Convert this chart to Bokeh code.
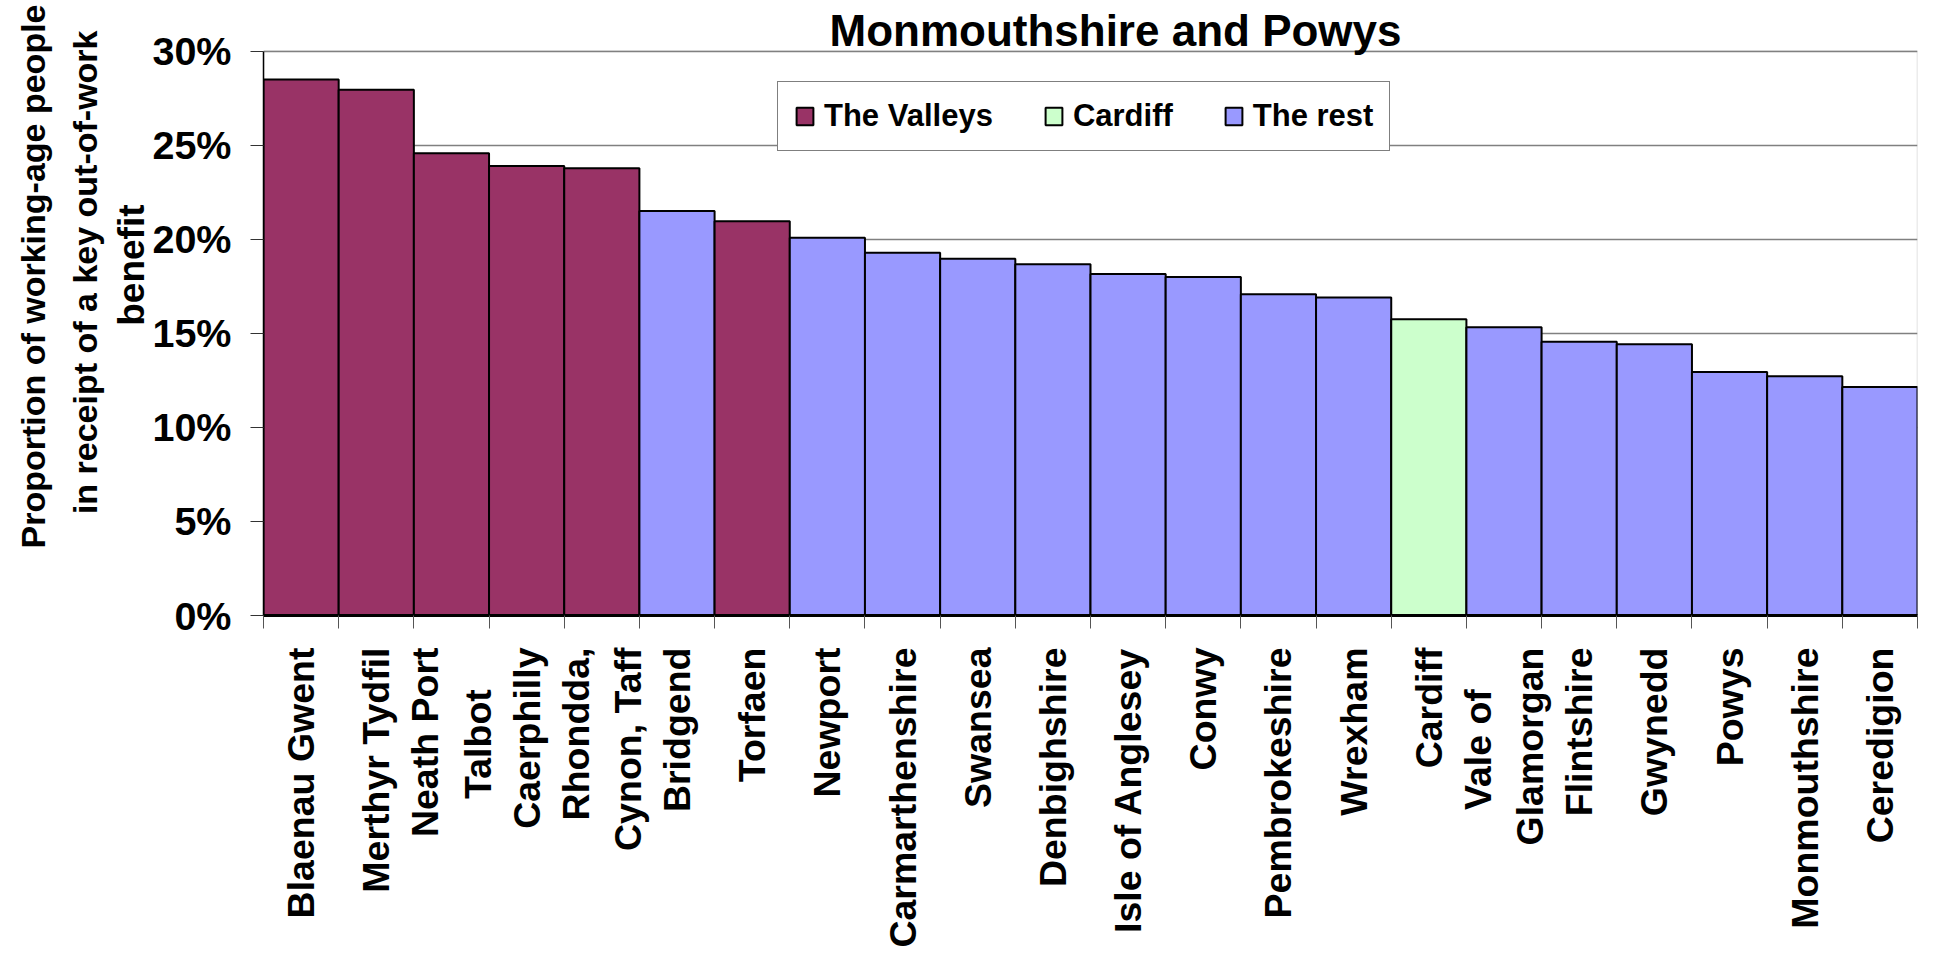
import math
from bokeh.plotting import figure
from bokeh.models import (Range1d, FixedTicker, NumeralTickFormatter, Label, Title,
                          Legend, LegendItem, ColumnDataSource, BoxAnnotation)
from bokeh.embed import file_html
from bokeh.resources import INLINE

# ---- data ----
areas = ["Blaenau Gwent", "Merthyr Tydfil", "Neath Port Talbot", "Caerphilly",
         "Rhondda, Cynon, Taff", "Bridgend", "Torfaen", "Newport", "Carmarthenshire",
         "Swansea", "Denbighshire", "Isle of Anglesey", "Conwy", "Pembrokeshire",
         "Wrexham", "Cardiff", "Vale of Glamorgan", "Flintshire", "Gwynedd", "Powys",
         "Monmouthshire", "Ceredigion"]
NB4 = "\u00a0" * 4   # keeps a short second line centred under the first
tick_labels = ["Blaenau Gwent", "Merthyr Tydfil", "Neath Port\nTalbot" + NB4, "Caerphilly",
               "Rhondda,\nCynon, Taff", "Bridgend", "Torfaen", "Newport", "Carmarthenshire",
               "Swansea", "Denbighshire", "Isle of Anglesey", "Conwy", "Pembrokeshire",
               "Wrexham", "Cardiff", "Vale of" + NB4 + "\nGlamorgan", "Flintshire", "Gwynedd",
               "Powys", "Monmouthshire", "Ceredigion"]
share = [0.2850, 0.2795, 0.2458, 0.2390, 0.2378, 0.2151, 0.2096, 0.2008, 0.1929,
         0.1896, 0.1868, 0.1815, 0.1800, 0.1708, 0.1690, 0.1575, 0.1533, 0.1455,
         0.1442, 0.1294, 0.1272, 0.1215]
group = ["The Valleys", "The Valleys", "The Valleys", "The Valleys", "The Valleys",
         "The rest", "The Valleys", "The rest", "The rest", "The rest", "The rest",
         "The rest", "The rest", "The rest", "The rest", "Cardiff", "The rest",
         "The rest", "The rest", "The rest", "The rest", "The rest"]
group_names = ["The Valleys", "Cardiff", "The rest"]
group_colors = {"The Valleys": "#993366", "Cardiff": "#CCFFCC", "The rest": "#9999FF"}
y_ticks = [0.0, 0.05, 0.10, 0.15, 0.20, 0.25, 0.30]
title_text = "Monmouthshire and Powys"
y_title_lines = ["Proportion of working-age people",
                 "in receipt of a key out-of-work",
                 "benefit"]

FONT = "Liberation Sans"
n = len(areas)
xpos = [i + 0.5 for i in range(n)]
y_max = y_ticks[-1]

W, H = 1919, 950
BORDER_L, BORDER_R, BORDER_B = 263, 2, 335
FRAME_H = H - BORDER_B            # frame reaches the canvas top
AXIS_TOP_PX = 50.7                # pixel row of the 30% line
y_end = y_max * FRAME_H / (FRAME_H - AXIS_TOP_PX)

src = ColumnDataSource(dict(x=xpos, top=share, area=areas, group=group,
                            color=[group_colors[g] for g in group]))

p = figure(width=W, height=H, output_backend="svg", toolbar_location=None,
           x_range=Range1d(0, n), y_range=Range1d(0, y_end),
           min_border_left=BORDER_L, min_border_right=BORDER_R, min_border_top=0,
           min_border_bottom=BORDER_B, background_fill_color="white",
           border_fill_color="white")
p.outline_line_color = None

# grey plot-area border (0..30%)
p.add_layout(BoxAnnotation(left=0, right=n, bottom=0, top=y_max, fill_alpha=0,
                           line_color="#808080", line_width=1.5, level="underlay"))

bars = p.vbar(x="x", top="top", width=1.0, bottom=0, source=src,
              fill_color="color", line_color="black", line_width=2)

# x axis: labels at centres, ticks at category boundaries
xa = p.xaxis[0]
xa.ticker = FixedTicker(ticks=xpos, minor_ticks=list(range(n + 1)))
xa.major_label_overrides = {x: lab for x, lab in zip(xpos, tick_labels)}
xa.major_label_orientation = math.pi / 2
xa.major_tick_line_color = None
xa.major_tick_in = 0
xa.major_tick_out = 13
xa.minor_tick_in = 0
xa.minor_tick_out = 13
xa.minor_tick_line_color = "#555555"
xa.major_label_standoff = 19
xa.major_label_text_font = FONT
xa.major_label_text_font_style = "bold"
xa.major_label_text_font_size = "37.5px"
xa.major_label_text_color = "black"
xa.major_label_text_line_height = 1.25
xa.axis_line_color = "black"
xa.axis_line_width = 3

# y axis
ya = p.yaxis[0]
ya.ticker = FixedTicker(ticks=y_ticks)
ya.formatter = NumeralTickFormatter(format="0%")
ya.bounds = (0, y_max)
ya.major_tick_in = 0
ya.major_tick_out = 13
ya.major_tick_line_color = "#333333"
ya.minor_tick_line_color = None
ya.major_label_standoff = 19
ya.major_label_text_font = FONT
ya.major_label_text_font_style = "bold"
ya.major_label_text_font_size = "39.5px"
ya.major_label_text_color = "black"
ya.axis_line_color = "black"
ya.axis_line_width = 1.5

p.xgrid.grid_line_color = None
p.ygrid.grid_line_color = "#808080"
p.ygrid.grid_line_width = 1.5

# legend
items = [LegendItem(label=g, renderers=[bars], index=group.index(g)) for g in group_names]
leg = Legend(items=items, orientation="horizontal", location=(514, 464),
             label_text_font=FONT, label_text_font_style="bold",
             label_text_font_size="31px", label_text_color="black",
             glyph_width=21, glyph_height=22, label_standoff=9, spacing=50,
             padding=16, margin=0, border_line_color="black", border_line_width=1.5,
             background_fill_color="white", background_fill_alpha=1.0)
p.add_layout(leg, "center")

# title (last visible line of the chart title)
p.add_layout(Label(x=852, y=585.5, x_units="screen", y_units="screen", text=title_text,
                   text_align="center", text_baseline="alphabetic",
                   text_font=FONT, text_font_style="bold", text_font_size="44px",
                   text_color="black"))

# y axis title: three lines, nearest the axis first
y_title_specs = [  # (size, offset from top, standoff)
    ("37px", 204, -4.5),
    ("34px", 30, 12.5),
    ("34px", 4, 11),
]
for t, (size, off, so) in zip(reversed(y_title_lines), y_title_specs):
    p.add_layout(Title(text=t, align="right", offset=off, standoff=so,
                       text_font=FONT, text_font_style="bold", text_font_size=size,
                       text_color="black"), "left")

open("out.html", "w").write(file_html(p, INLINE))
